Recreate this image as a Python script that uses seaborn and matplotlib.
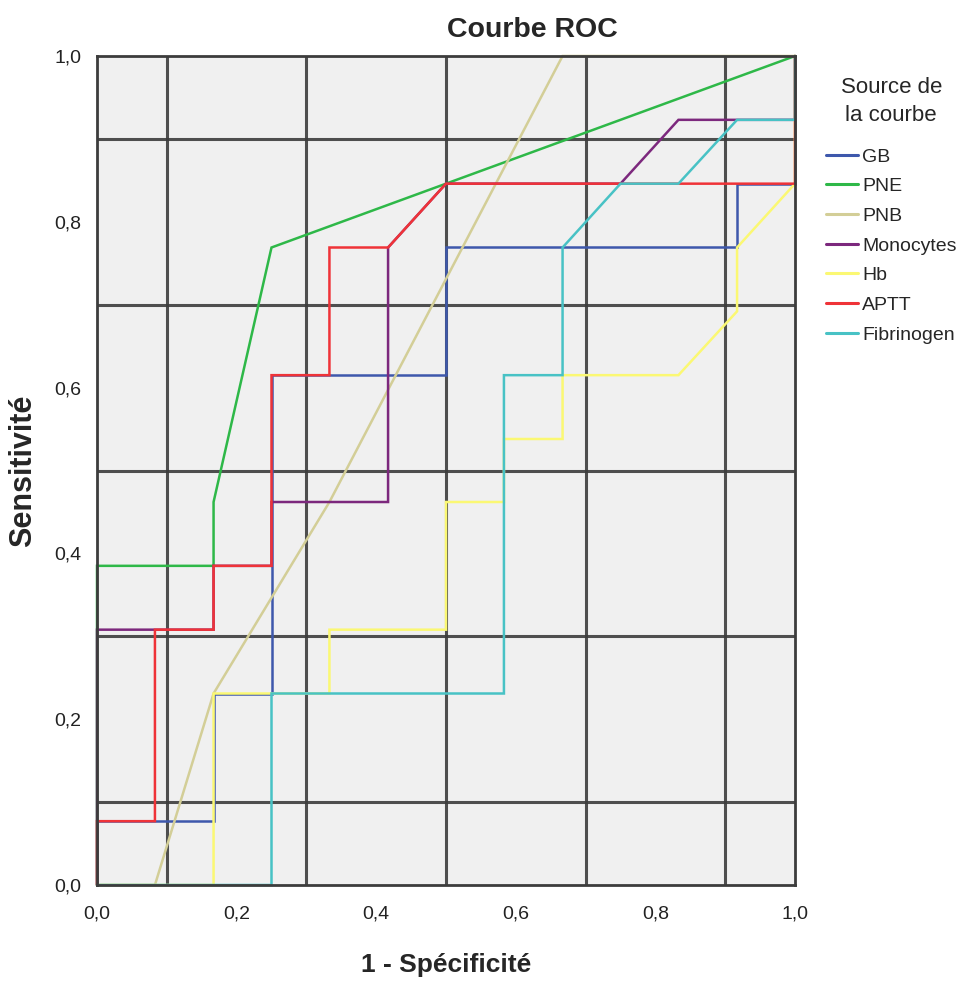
import matplotlib
matplotlib.use("Agg")
import matplotlib.pyplot as plt
import seaborn as sns
import pandas as pd

sns.set_style("white")
plt.rcParams['font.family'] = ['Liberation Sans', 'DejaVu Sans']

# ---- data ----
series_names = ["GB", "PNE", "PNB", "Monocytes", "Hb", "APTT", "Fibrinogen"]
colors = ["#3E58AC", "#2EB848", "#D3CE97", "#7C287D", "#FBF873", "#EF3338", "#48C2C5"]

gb_x = [0, 0, 0.167, 0.167, 0.25, 0.25, 0.5, 0.5, 0.917, 0.917, 1, 1]
gb_y = [0, 0.077, 0.077, 0.231, 0.231, 0.615, 0.615, 0.769, 0.769, 0.846, 0.846, 1]

pne_x = [0, 0, 0.167, 0.167, 0.25, 0.5, 1]
pne_y = [0, 0.385, 0.385, 0.462, 0.769, 0.846, 1]

pnb_x = [0, 0.083, 0.167, 0.333, 0.667, 1]
pnb_y = [0, 0, 0.231, 0.462, 1, 1]

mono_x = [0, 0, 0.167, 0.167, 0.25, 0.25, 0.417, 0.417, 0.5, 0.75, 0.833, 0.917, 1, 1]
mono_y = [0, 0.308, 0.308, 0.385, 0.385, 0.462, 0.462, 0.769, 0.846, 0.846, 0.923, 0.923, 0.923, 1]

hb_x = [0, 0.167, 0.167, 0.333, 0.333, 0.5, 0.5, 0.583, 0.583, 0.667, 0.667, 0.833, 0.917, 0.917, 1, 1]
hb_y = [0, 0, 0.231, 0.231, 0.308, 0.308, 0.462, 0.462, 0.538, 0.538, 0.615, 0.615, 0.692, 0.769, 0.846, 1]

aptt_x = [0, 0, 0.083, 0.083, 0.167, 0.167, 0.25, 0.25, 0.333, 0.333, 0.417, 0.5, 1, 1]
aptt_y = [0, 0.077, 0.077, 0.308, 0.308, 0.385, 0.385, 0.615, 0.615, 0.769, 0.769, 0.846, 0.846, 1]

fib_x = [0, 0.25, 0.25, 0.583, 0.583, 0.667, 0.667, 0.75, 0.833, 0.917, 1, 1]
fib_y = [0, 0, 0.231, 0.231, 0.615, 0.615, 0.769, 0.846, 0.846, 0.923, 0.923, 1]

xs = [gb_x, pne_x, pnb_x, mono_x, hb_x, aptt_x, fib_x]
ys = [gb_y, pne_y, pnb_y, mono_y, hb_y, aptt_y, fib_y]

tick_vals = [0.0, 0.2, 0.4, 0.6, 0.8, 1.0]
tick_labels = ["0,0", "0,2", "0,4", "0,6", "0,8", "1,0"]
grid_vals = [0.1, 0.3, 0.5, 0.7, 0.9]

rows = []
for name, x, y in zip(series_names, xs, ys):
    for i, (a, b) in enumerate(zip(x, y)):
        rows.append({"curve": name, "order": i, "fpr": a, "tpr": b})
df = pd.DataFrame(rows)

# ---- figure ----
W, H = 962, 983
fig = plt.figure(figsize=(W / 100, H / 100), dpi=100)
fig.patch.set_facecolor("white")
L, R, T, B = 97, 795, 56, 885
ax = fig.add_axes([L / W, 1 - B / H, (R - L) / W, (B - T) / H])
ax.set_facecolor("#F0F0F0")

sns.lineplot(data=df, x="fpr", y="tpr", hue="curve", hue_order=series_names,
             palette=colors, sort=False, estimator=None, units="curve",
             linewidth=1.8, ax=ax, legend=True)
for ln in ax.lines:
    ln.set_clip_on(False)
    ln.set_solid_joinstyle("miter")

ax.set_xlim(0, 1)
ax.set_ylim(0, 1)

grid_col = "#3c3c3c"
ax.set_xticks(tick_vals)
ax.set_xticklabels(tick_labels, fontsize=14)
ax.set_yticks(tick_vals)
ax.set_yticklabels(tick_labels, fontsize=14)
ax.set_xticks(grid_vals, minor=True)
ax.set_yticks(grid_vals, minor=True)
ax.grid(False)
ax.grid(which="minor", color=grid_col, linewidth=2.2, alpha=0.9)
ax.set_axisbelow(True)
ax.tick_params(which="major", direction="out", length=8, width=1.5, color=grid_col,
               pad=3, labelcolor="#222222")
ax.tick_params(axis="x", which="major", pad=7)
ax.tick_params(which="minor", length=0)
for s in ax.spines.values():
    s.set_visible(True)
    s.set_color(grid_col)
    s.set_linewidth(2.0)
    s.set_zorder(5)

ax.set_xlabel("1 - Spécificité", fontsize=19, fontweight="bold")
ax.set_ylabel("Sensitivité", fontsize=22, fontweight="bold")
ax.xaxis.set_label_coords(0.5, (B - 953) / (B - T))
ax.yaxis.set_label_coords((38 - L) / (R - L), 0.5)

fig.text(532 / W, 1 - 30 / H, "Courbe ROC", ha="center", va="center",
         fontsize=20.5, fontweight="bold")

handles, labels = ax.get_legend_handles_labels()
leg = ax.legend(handles, labels, title="Source de\nla courbe",
                loc="upper left", bbox_to_anchor=(826 / W, 1 - 77 / H),
                bbox_transform=fig.transFigure, frameon=False,
                prop={"size": 14},
                title_fontproperties={"size": 16},
                alignment="center", handlelength=1.65, handletextpad=0.2,
                labelspacing=0.62, borderaxespad=0, borderpad=0)
leg.get_title().set_multialignment("center")
leg.get_title().set_linespacing(1.45)
leg._legend_box.sep = leg._legend_box.sep + 7
for h in leg.legend_handles:
    h.set_linewidth(2.2)

fig.savefig("out.png", dpi=100)
